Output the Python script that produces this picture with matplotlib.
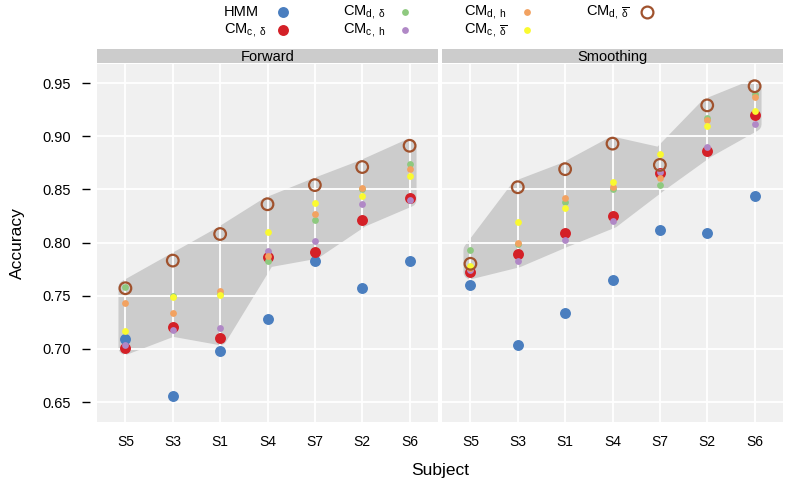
import numpy as np
import matplotlib
matplotlib.use("Agg")
import matplotlib.pyplot as plt
from matplotlib.patches import Polygon
from matplotlib.lines import Line2D

plt.rcParams['font.family'] = ['Liberation Sans', 'DejaVu Sans']
plt.rcParams['mathtext.fontset'] = 'custom'
plt.rcParams['mathtext.rm'] = 'Liberation Sans'
plt.rcParams['mathtext.it'] = 'Liberation Sans'

# Data
subjects = ["S5", "S3", "S1", "S4", "S7", "S2", "S6"]
facets = ["Forward", "Smoothing"]

hmm_fwd = [0.709, 0.656, 0.698, 0.728, 0.783, 0.757, 0.783]
cm_c_delta_fwd = [0.701, 0.721, 0.710, 0.786, 0.791, 0.821, 0.842]
cm_d_delta_fwd = [0.758, 0.750, 0.752, 0.783, 0.821, 0.850, 0.874]
cm_c_h_fwd = [0.704, 0.718, 0.720, 0.792, 0.801, 0.836, 0.840]
cm_d_h_fwd = [0.743, 0.734, 0.754, 0.787, 0.827, 0.851, 0.869]
cm_c_dbar_fwd = [0.717, 0.749, 0.751, 0.810, 0.837, 0.844, 0.863]
cm_d_dbar_fwd = [0.757, 0.783, 0.808, 0.836, 0.854, 0.871, 0.891]

hmm_smo = [0.760, 0.704, 0.734, 0.765, 0.812, 0.809, 0.844]
cm_c_delta_smo = [0.772, 0.789, 0.809, 0.825, 0.865, 0.886, 0.920]
cm_d_delta_smo = [0.793, 0.799, 0.838, 0.850, 0.854, 0.917, 0.940]
cm_c_h_smo = [0.774, 0.783, 0.802, 0.820, 0.866, 0.890, 0.911]
cm_d_h_smo = [0.776, 0.800, 0.842, 0.852, 0.861, 0.915, 0.937]
cm_c_dbar_smo = [0.778, 0.819, 0.832, 0.857, 0.883, 0.910, 0.924]
cm_d_dbar_smo = [0.780, 0.852, 0.869, 0.893, 0.873, 0.929, 0.947]

series_fwd = [hmm_fwd, cm_c_delta_fwd, cm_d_delta_fwd, cm_c_h_fwd,
              cm_d_h_fwd, cm_c_dbar_fwd, cm_d_dbar_fwd]
series_smo = [hmm_smo, cm_c_delta_smo, cm_d_delta_smo, cm_c_h_smo,
              cm_d_h_smo, cm_c_dbar_smo, cm_d_dbar_smo]

labels = ["HMM",
          r"CM$_{\mathregular{c,\ \delta}}$",
          r"CM$_{\mathregular{d,\ \delta}}$",
          r"CM$_{\mathregular{c,\ h}}$",
          r"CM$_{\mathregular{d,\ h}}$",
          r"CM$_{\mathregular{c,\ \overline{\delta}}}$",
          r"CM$_{\mathregular{d,\ \overline{\delta}}}$"]
colors = ["#4a7ebf", "#d42027", "#8ec97f", "#b088c6", "#f2a261", "#fafa30", "#a0522d"]
sizes = [62, 62, 24, 24, 24, 24, 70]

fig = plt.figure(figsize=(7.85, 4.87), dpi=100)
W, H = 785, 487
panels = [(97, 438), (442, 783)]
top, bottom = 64, 422
x = np.arange(len(subjects))

for i, (name, series) in enumerate(zip(facets, [series_fwd, series_smo])):
    x0, x1 = panels[i]
    ax = fig.add_axes([x0 / W, 1 - bottom / H, (x1 - x0) / W, (bottom - top) / H])
    ax.set_facecolor("#f0f0f0")
    ax.set_xlim(-0.6, 6.6)
    ax.set_ylim(0.6312, 0.9679)
    for s in ax.spines.values():
        s.set_visible(False)
    ax.grid(True, color="white", linewidth=1.3)
    ax.set_axisbelow('line')

    # band from min to max of the CM models
    cm = np.array(series[1:])
    lo, hi = cm.min(axis=0), cm.max(axis=0)
    verts = list(zip(x, hi)) + list(zip(x[::-1], lo[::-1]))
    ax.add_patch(Polygon(verts, closed=True, facecolor="#cccccc", edgecolor="#cccccc",
                         linewidth=10, joinstyle="round", zorder=1))

    for k, vals in enumerate(series):
        if k == 6:
            ax.scatter(x, vals, s=sizes[k], facecolors="none", edgecolors=colors[k],
                       linewidths=1.6, zorder=3 + k)
        else:
            ax.scatter(x, vals, s=sizes[k], color=colors[k], linewidths=0, zorder=3 + k)

    ax.set_xticks(x)
    ax.set_xticklabels(subjects, fontsize=10)
    ax.tick_params(axis="x", length=0, pad=9)
    ax.set_yticks([0.65, 0.70, 0.75, 0.80, 0.85, 0.90, 0.95])
    if i == 0:
        ax.spines['left'].set_position(('outward', 5))
        ax.tick_params(axis="y", length=6, width=1, pad=8, labelsize=10.5)
        ax.set_ylabel("Accuracy", fontsize=12.5, labelpad=12)
    else:
        ax.tick_params(axis="y", length=0, labelleft=False)

    # facet strip
    sax = fig.add_axes([x0 / W, 1 - 63 / H, (x1 - x0) / W, 14 / H])
    sax.set_facecolor("#cccccc")
    sax.set_xticks([])
    sax.set_yticks([])
    for s in sax.spines.values():
        s.set_visible(False)
    sax.text(0.5, 0.45, name, ha="center", va="center", fontsize=10.5,
             transform=sax.transAxes)

fig.text(440 / W, 1 - 470 / H, "Subject", ha="center", va="center", fontsize=12.5)

# legend: label on the left, key on the right, column-wise
col_text = [224, 343, 464, 586]
col_key = [283, 405, 527, 647]
row_y = [12, 30]
for k, lab in enumerate(labels):
    c, r = divmod(k, 2)
    fig.text(col_text[c] / W, 1 - row_y[r] / H, lab, ha="left", va="center", fontsize=10.5)
    kx, ky = col_key[c] / W, 1 - row_y[r] / H
    if k == 6:
        m = Line2D([kx], [ky], transform=fig.transFigure, linestyle="none", marker="o",
                   markersize=8.5, markerfacecolor="none", markeredgecolor=colors[k],
                   markeredgewidth=1.6)
    else:
        m = Line2D([kx], [ky], transform=fig.transFigure, linestyle="none", marker="o",
                   markersize=np.sqrt(sizes[k]), markerfacecolor=colors[k],
                   markeredgewidth=0)
    fig.add_artist(m)

fig.savefig("out.png", dpi=100)
